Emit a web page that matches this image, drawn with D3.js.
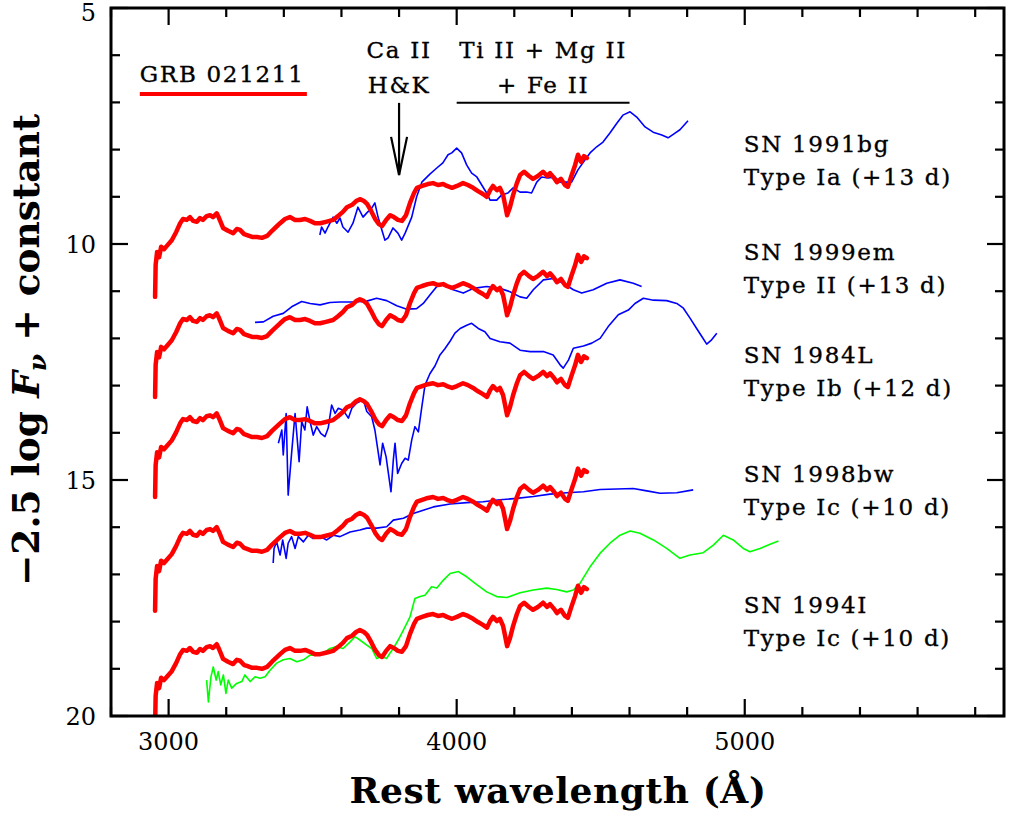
<!DOCTYPE html>
<html><head><meta charset="utf-8">
<script src="https://cdn.jsdelivr.net/npm/d3@7"></script>
<style>body{margin:0;background:#fff}svg{display:block}</style>
</head><body><svg id="c" width="1009" height="817"></svg>
<script>
// GRB 021211 spectrum (top panel level); other panels are the same spectrum + constant
const grbWave = [2953,2955,2960,2967,2974,2984,2994,3011,3026,3040,3050,3063,3074,3085,3098,3109,3119,3132,3144,3154,3167,3175,3189,3206,3224,3237,3248,3262,3272,3290,3307,3324,3342,3359,3373,3387,3404,3421,3439,3456,3474,3491,3508,3526,3546,3571,3588,3605,3619,3637,3651,3664,3678,3689,3703,3717,3730,3741,3755,3769,3782,3796,3810,3824,3838,3852,3862,3880,3900,3918,3935,3953,3966,3984,4001,4022,4039,4057,4074,4091,4105,4116,4126,4140,4150,4161,4168,4175,4185,4196,4209,4220,4234,4251,4265,4282,4300,4314,4324,4338,4348,4362,4376,4386,4397,4411,4421,4432,4442,4452];
const grbMag = [11.12,10.44,10.17,10.28,10.06,10.11,10.04,9.92,9.75,9.56,9.47,9.49,9.43,9.51,9.53,9.45,9.49,9.41,9.39,9.43,9.35,9.45,9.66,9.72,9.77,9.68,9.70,9.79,9.81,9.85,9.85,9.87,9.83,9.72,9.64,9.56,9.47,9.43,9.49,9.49,9.47,9.51,9.56,9.56,9.53,9.49,9.41,9.32,9.22,9.17,9.09,9.05,9.09,9.15,9.30,9.47,9.58,9.62,9.49,9.39,9.43,9.49,9.51,9.39,9.13,8.92,8.81,8.77,8.73,8.71,8.75,8.73,8.77,8.81,8.77,8.71,8.75,8.81,8.88,8.94,9.00,8.86,8.77,8.86,8.81,8.96,9.17,9.39,9.22,8.96,8.71,8.54,8.47,8.56,8.62,8.56,8.47,8.56,8.50,8.60,8.69,8.62,8.75,8.79,8.58,8.33,8.11,8.26,8.14,8.18];
const grbOffsets = [0, 2.12, 4.24, 6.65, 9.13];

const sn1991bgWave = [3525,3531,3543,3553,3571,3584,3595,3605,3623,3640,3657,3675,3688,3705,3716,3727,3740,3751,3762,3779,3796,3809,3821,3844,3861,3879,3907,3931,3952,3970,3983,4000,4017,4035,4052,4070,4087,4104,4116,4139,4156,4178,4196,4220,4243,4260,4278,4295,4317,4341,4359,4376,4399,4421,4445,4463,4486,4508,4532,4556,4577,4602,4625,4654,4682,4712,4734,4758,4775,4803];
const sn1991bgMag = [9.81,9.64,9.77,9.64,9.43,9.56,9.45,9.64,9.75,9.56,9.22,9.43,9.34,9.24,9.13,9.43,9.70,9.92,9.87,9.66,9.77,9.92,9.77,9.43,9.00,8.69,8.52,8.39,8.28,8.11,8.07,7.97,8.07,8.33,8.50,8.58,8.75,8.92,9.07,9.07,8.96,8.92,8.81,8.90,8.90,8.92,8.69,8.58,8.60,8.58,8.69,8.69,8.69,8.43,8.22,8.07,7.94,7.84,7.65,7.44,7.27,7.20,7.31,7.52,7.63,7.69,7.75,7.65,7.58,7.39];

const sn1999emWave = [3300,3329,3363,3398,3427,3462,3491,3526,3560,3595,3641,3688,3722,3757,3792,3827,3861,3884,3907,3931,3954,3988,4023,4058,4104,4150,4185,4220,4243,4266,4301,4335,4370,4405,4434,4474,4521,4567,4613,4642];
const sn1999emMag = [11.66,11.65,11.53,11.47,11.33,11.22,11.26,11.29,11.24,11.23,11.23,11.21,11.15,11.20,11.31,11.38,11.37,11.26,11.08,10.90,10.87,10.97,11.04,10.94,10.90,10.94,11.01,11.12,11.15,10.97,10.76,10.73,10.83,10.97,11.04,10.97,10.83,10.76,10.83,10.90];

const sn1984LWave = [3381,3393,3398,3408,3415,3427,3439,3453,3462,3473,3481,3491,3502,3514,3528,3543,3554,3566,3578,3589,3606,3624,3636,3653,3676,3688,3705,3716,3728,3734,3743,3755,3763,3772,3780,3786,3795,3809,3821,3832,3844,3855,3867,3879,3890,3907,3925,3942,3959,3977,3994,4012,4035,4052,4075,4098,4116,4150,4185,4220,4255,4301,4335,4359,4370,4388,4405,4440,4469,4498,4526,4561,4596,4619,4648,4683,4729,4764,4787,4810,4833,4851,4868,4885,4903];
const sn1984LMag = [14.22,13.94,14.47,13.59,15.32,14.43,13.59,14.61,13.76,13.94,13.45,13.76,14.05,13.87,14.01,14.08,13.90,13.41,13.59,13.48,13.52,13.69,13.48,13.37,13.30,13.55,13.66,13.94,14.43,14.68,14.22,14.51,14.86,15.25,14.58,14.22,14.86,14.65,14.54,14.58,14.15,13.87,13.98,13.45,12.99,12.75,12.58,12.35,12.22,12.06,11.89,11.79,11.72,11.68,11.79,11.86,12.00,12.07,12.10,12.25,12.28,12.28,12.35,12.56,12.63,12.46,12.21,12.16,12.10,12.00,11.75,11.50,11.40,11.26,11.15,11.19,11.20,11.26,11.36,11.57,11.79,11.96,12.12,12.03,11.89];

const sn1998bwWave = [3363,3366,3375,3387,3396,3408,3415,3427,3439,3450,3468,3485,3502,3526,3549,3572,3595,3630,3664,3688,3722,3757,3780,3815,3849,3884,3919,3977,4035,4092,4150,4208,4266,4324,4382,4440,4498,4556,4613,4660,4706,4764,4821];
const sn1998bwMag = [16.76,16.45,16.31,16.59,16.27,16.66,16.34,16.20,16.45,16.20,16.31,16.17,16.24,16.20,16.27,16.17,16.20,16.10,16.06,16.02,16.02,15.99,15.85,15.81,15.71,15.64,15.57,15.51,15.48,15.46,15.42,15.39,15.35,15.30,15.27,15.25,15.20,15.19,15.18,15.23,15.28,15.27,15.21];

const sn1994IWave = [3132,3138,3147,3155,3165,3172,3181,3190,3199,3207,3219,3236,3254,3265,3283,3300,3317,3335,3352,3375,3398,3421,3445,3468,3491,3514,3537,3560,3584,3606,3630,3647,3664,3688,3705,3722,3740,3757,3768,3780,3797,3815,3838,3855,3873,3890,3913,3931,3954,3977,4006,4035,4064,4104,4139,4174,4220,4266,4312,4347,4382,4405,4428,4463,4498,4532,4567,4602,4636,4683,4729,4775,4810,4856,4891,4926,4960,4995,5018,5053,5088,5117];
const sn1994IMag = [19.24,19.70,19.17,18.96,19.24,19.06,19.34,19.13,19.52,19.24,19.41,19.31,19.27,19.13,19.27,19.17,19.20,19.17,19.03,18.88,18.81,18.78,18.85,18.81,18.71,18.71,18.67,18.57,18.53,18.57,18.43,18.32,18.39,18.50,18.57,18.78,18.74,18.78,18.67,18.57,18.39,18.18,17.90,17.51,17.47,17.44,17.26,17.29,17.12,16.98,16.94,17.05,17.19,17.37,17.47,17.49,17.39,17.33,17.29,17.32,17.37,17.33,17.19,16.84,16.55,16.34,16.17,16.08,16.13,16.27,16.45,16.66,16.59,16.54,16.38,16.17,16.27,16.45,16.52,16.45,16.36,16.29];

const snNames = ["SN 1991bg","SN 1999em","SN 1984L","SN 1998bw","SN 1994I"];
const snTypes = ["Type Ia (+13 d)","Type II (+13 d)","Type Ib (+12 d)","Type Ic (+10 d)","Type Ic (+10 d)"];
const snLabelMag = [8.05, 10.34, 12.52, 15.04, 17.82];
const snLabelWave = 5000;
const xMajorTicks = [3000, 4000, 5000];
const yMajorTicks = [5, 10, 15, 20];

const comps = [
  {w: sn1991bgWave, m: sn1991bgMag, color: "#0000ff"},
  {w: sn1999emWave, m: sn1999emMag, color: "#0000ff"},
  {w: sn1984LWave, m: sn1984LMag, color: "#0000ff"},
  {w: sn1998bwWave, m: sn1998bwMag, color: "#0000ff"},
  {w: sn1994IWave, m: sn1994IMag, color: "#00ff00"}
];

const L = 111, R = 1004, T = 8, B = 716;
const x = d3.scaleLinear().domain([2800, 5900]).range([L, R]);
const y = d3.scaleLinear().domain([5, 20]).range([T, B]);
const svg = d3.select("#c");
const serif = "'DejaVu Serif', serif";

svg.append("defs").append("clipPath").attr("id","clip")
  .append("rect").attr("x", L).attr("y", T).attr("width", R-L).attr("height", B-T);

const line = d3.line().x(d => x(d[0])).y(d => y(d[1]));
const gPlot = svg.append("g").attr("clip-path","url(#clip)");

comps.forEach((c, i) => {
  gPlot.append("path").datum(c.w.map((w, k) => [w, c.m[k]]))
    .attr("d", line).attr("fill","none").attr("stroke", c.color)
    .attr("stroke-width", 1.6).attr("stroke-linejoin","round");
});
grbOffsets.forEach(off => {
  gPlot.append("path").datum(grbWave.map((w, k) => [w, grbMag[k] + off]))
    .attr("d", line).attr("fill","none").attr("stroke","#ff0000")
    .attr("stroke-width", 4.5).attr("stroke-linejoin","round").attr("stroke-linecap","round");
});

// frame
svg.append("rect").attr("x", L).attr("y", T).attr("width", R-L).attr("height", B-T)
  .attr("fill","none").attr("stroke","#000").attr("stroke-width", 3);

// ticks
const tg = svg.append("g").attr("stroke","#000").attr("stroke-width", 2.2);
d3.range(2800, 5901, 200).forEach(v => {
  const len = xMajorTicks.includes(v) ? 17 : 9;
  tg.append("line").attr("x1", x(v)).attr("x2", x(v)).attr("y1", B).attr("y2", B - len);
  tg.append("line").attr("x1", x(v)).attr("x2", x(v)).attr("y1", T).attr("y2", T + len);
});
d3.range(5, 20.5, 1).forEach(v => {
  const len = yMajorTicks.includes(v) ? 17 : 9;
  tg.append("line").attr("x1", L).attr("x2", L + len).attr("y1", y(v)).attr("y2", y(v));
  tg.append("line").attr("x1", R).attr("x2", R - len).attr("y1", y(v)).attr("y2", y(v));
});

// tick labels
xMajorTicks.forEach(v => {
  svg.append("text").attr("x", x(v)).attr("y", 750).attr("text-anchor","middle")
    .attr("font-family", serif).attr("font-size", 24).text(v);
});
yMajorTicks.forEach(v => {
  svg.append("text").attr("x", 96).attr("y", Math.max(y(v) + 9, 21)).attr("text-anchor","end")
    .attr("font-family", serif).attr("font-size", 24).text(v);
});

// axis titles
svg.append("text").attr("x", 558).attr("y", 803).attr("text-anchor","middle")
  .attr("font-family", serif).attr("font-weight","bold").attr("font-size", 36)
  .attr("letter-spacing", 0.6).text("Rest wavelength (Å)");
const yt = svg.append("text").attr("transform","translate(39,350) rotate(-90)")
  .attr("text-anchor","middle").attr("font-family", serif).attr("font-weight","bold").attr("font-size", 37.5);
yt.append("tspan").text("\u22122.5 log ");
yt.append("tspan").attr("font-style","italic").text("F");
yt.append("tspan").attr("font-style","italic").attr("font-size", 25).attr("dy", 7).text("\u03bd");
yt.append("tspan").attr("dy", -7).text(" + constant");

function label(xp, yp, txt, anchor) {
  return svg.append("text").attr("x", xp).attr("y", yp).attr("text-anchor", anchor || "start")
    .attr("font-family", serif).attr("font-size", 23).attr("letter-spacing", 1.7)
    .attr("stroke", "#000").attr("stroke-width", 0.35).text(txt);
}

snNames.forEach((n, i) => {
  label(x(snLabelWave) - 1, y(snLabelMag[i]), n);
  label(x(snLabelWave) - 1, y(snLabelMag[i]) + 33, snTypes[i]);
});

label(x(2900), y(6.57), "GRB 021211");
svg.append("line").attr("x1", x(2900)).attr("x2", x(3480)).attr("y1", y(6.82)).attr("y2", y(6.82))
  .attr("stroke","#ff0000").attr("stroke-width", 4);

label(x(3800), y(6.06), "Ca II", "middle");
label(x(3800), y(6.80), "H&K", "middle");
const ag = svg.append("g").attr("stroke","#000").attr("stroke-width", 2.2).attr("fill","none");
ag.append("line").attr("x1", x(3800)).attr("x2", x(3800)).attr("y1", y(7.01)).attr("y2", y(8.54));
ag.append("path").attr("d", `M${x(3800)-8},${y(7.73)}L${x(3800)},${y(8.54)}L${x(3800)+8},${y(7.73)}`);

label(x(4300), y(6.06), "Ti II + Mg II", "middle");
label(x(4300), y(6.80), "+ Fe II", "middle");
svg.append("line").attr("x1", x(4000)).attr("x2", x(4600)).attr("y1", y(7.01)).attr("y2", y(7.01))
  .attr("stroke","#000").attr("stroke-width", 2);
</script></body></html>
